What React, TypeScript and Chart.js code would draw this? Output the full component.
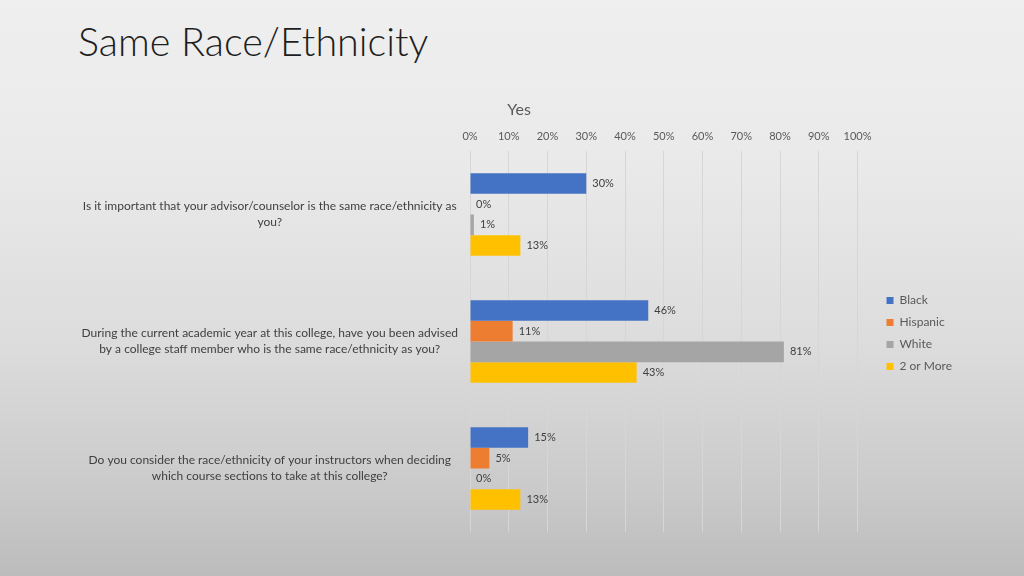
import React, { useEffect, useRef } from "react";
import { Chart, registerables } from "chart.js";

Chart.register(...registerables);

const categories: string[][] = [
  ["Is it important that your advisor/counselor is the same race/ethnicity as", "you?"],
  ["During the current academic year at this college, have you been advised", "by a college staff member who is the same race/ethnicity as you?"],
  ["Do you consider the race/ethnicity of your instructors when deciding", "which course sections to take at this college?"],
];
const seriesNames = ["Black", "Hispanic", "White", "2 or More"];
const black = [30, 46, 15];
const hispanic = [0, 11, 5];
const white = [1, 81, 0];
const twoOrMore = [13, 43, 13];
const seriesColors = ["#4472C4", "#ED7D31", "#A5A5A5", "#FFC000"];
const axisMin = 0;
const axisMax = 100;
const axisStep = 10;
const axisTitle = "Yes";
const slideTitle = "Same Race/Ethnicity";

const FONT = "Lato, 'Open Sans', sans-serif";

const valueLabels = {
  id: "valueLabels",
  afterDatasetsDraw(chart: any) {
    const ctx = chart.ctx;
    ctx.save();
    ctx.font = `11px ${FONT}`;
    ctx.fillStyle = "#404040";
    ctx.textAlign = "left";
    ctx.textBaseline = "middle";
    chart.data.datasets.forEach((ds: any, i: number) => {
      const meta = chart.getDatasetMeta(i);
      meta.data.forEach((el: any, j: number) => {
        ctx.fillText(`${ds.data[j]}%`, el.x + 6, el.y);
      });
    });
    ctx.restore();
  },
};

const axisTitlePlugin = {
  id: "axisTitlePlugin",
  afterDraw(chart: any) {
    const ctx = chart.ctx;
    ctx.save();
    ctx.font = `16px ${FONT}`;
    ctx.fillStyle = "#595959";
    ctx.textAlign = "center";
    ctx.textBaseline = "middle";
    ctx.fillText(axisTitle, chart.chartArea.left + 49, 110);
    ctx.restore();
  },
};

const legendShift = {
  id: "legendShift",
  afterLayout(chart: any) {
    const l = chart.legend;
    if (!l) return;
    l.left += 19;
    l.right += 19;
    l.top -= 8;
    l.bottom -= 8;
  },
};

export default function App() {
  const ref = useRef<HTMLCanvasElement | null>(null);
  useEffect(() => {
    if (!ref.current) return;
    const data = [black, hispanic, white, twoOrMore];
    const chart = new Chart(ref.current, {
      type: "bar",
      data: {
        labels: categories,
        datasets: seriesNames.map((name, i) => ({
          label: name,
          data: data[i],
          backgroundColor: seriesColors[i],
          borderWidth: 0,
          barPercentage: 1,
          categoryPercentage: 0.65,
        })),
      },
      plugins: [valueLabels, axisTitlePlugin, legendShift],
      options: {
        indexAxis: "y",
        responsive: false,
        animation: false,
        devicePixelRatio: 1,
        layout: { padding: { top: 0, left: 0, right: 81, bottom: 44 } },
        plugins: {
          tooltip: { enabled: false },
          title: { display: false },
          legend: {
            display: true,
            position: "right",
            align: "center",
            fullSize: false,
            labels: {
              boxWidth: 7,
              boxHeight: 7,
              padding: 10,
              color: "#595959",
              font: { family: FONT, size: 12 },
            },
          },
        },
        scales: {
          x: {
            position: "top",
            min: axisMin,
            max: axisMax,
            grid: { color: "#d6d6d6", drawTicks: false },
            border: { display: false },
            ticks: {
              stepSize: axisStep,
              padding: 8,
              color: "#595959",
              font: { family: FONT, size: 11 },
              callback: (v: any) => `${v}%`,
            },
            afterFit: (s: any) => {
              s.height = 151;
            },
          },
          y: {
            grid: { display: false, drawTicks: false },
            border: { display: false },
            ticks: {
              crossAlign: "center",
              padding: 12,
              color: "#404040",
              font: { family: FONT, size: 12, lineHeight: 1.35 },
              autoSkip: false,
            },
            afterFit: (s: any) => {
              s.width = 470;
            },
          },
        },
      },
    });
    return () => chart.destroy();
  }, []);

  return (
    <div
      style={{
        position: "fixed",
        left: 0,
        top: 0,
        width: 1024,
        height: 576,
        background:
          "linear-gradient(to bottom, #efefef 0%, #e9e9e9 30%, #dcdcdc 60%, #cacaca 85%, #bcbcbc 100%)",
        overflow: "hidden",
      }}
    >
      <div
        style={{
          position: "absolute",
          left: 78,
          top: 17,
          fontFamily: FONT,
          fontWeight: 300,
          fontSize: 39.5,
          color: "#1e1e1e",
          lineHeight: "48px",
          whiteSpace: "nowrap",
        }}
      >
        {slideTitle}
      </div>
      <canvas
        ref={ref}
        width={1024}
        height={576}
        style={{ position: "absolute", left: 0, top: 0, width: 1024, height: 576 }}
      />
    </div>
  );
}
